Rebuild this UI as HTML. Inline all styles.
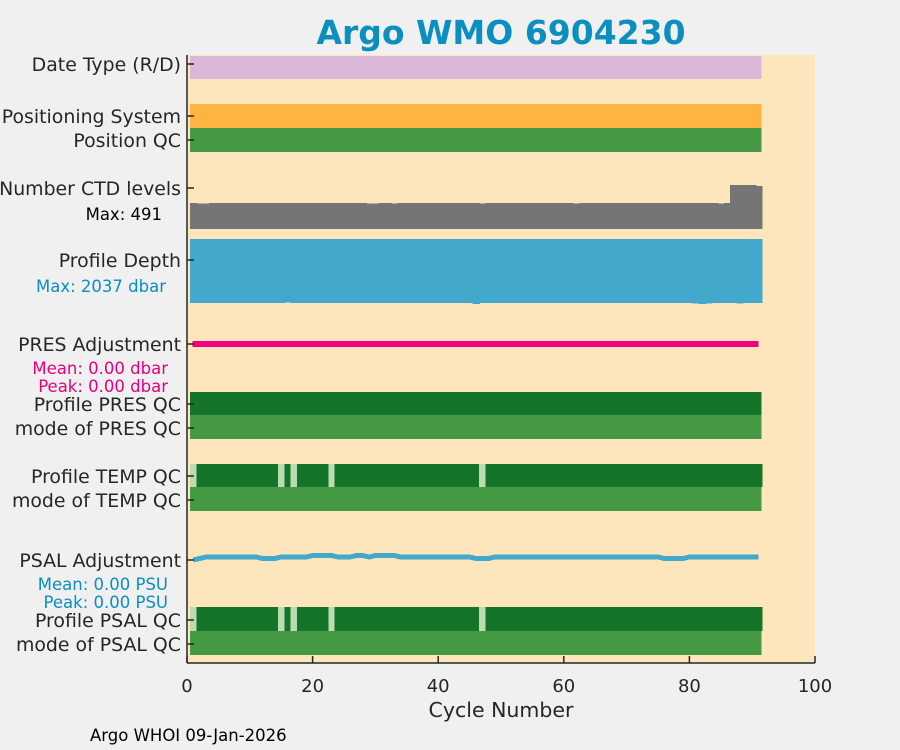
<!DOCTYPE html>
<html><head><meta charset="utf-8"><style>
body{margin:0;background:#f0f0f0;}
svg{display:block;font-family:"DejaVu Sans","Liberation Sans",sans-serif;}
</style></head><body>
<svg id="c" width="900" height="750">
<rect width="900" height="750" fill="#f0f0f0"/>
<text x="501" y="44" text-anchor="middle" font-size="33" font-weight="bold" fill="#0a8fc0">Argo WMO 6904230</text>
<rect x="187" y="55" width="628" height="608" fill="#fde6bc"/>
<g id="marks" shape-rendering="crispEdges"></g>
<g id="labels" font-size="18.9" fill="#262626" text-anchor="end">
<text x="181" y="71">Date Type (R/D)</text>
<text x="181" y="123">Positioning System</text>
<text x="181" y="147">Position QC</text>
<text x="181" y="195">Number CTD levels</text>
<text x="162" y="220" font-size="16.5" fill="#000">Max: 491</text>
<text x="181" y="267">Profile Depth</text>
<text x="166" y="292" font-size="16.5" fill="#0a8fc0">Max: 2037 dbar</text>
<text x="181" y="351">PRES Adjustment</text>
<text x="168" y="374" font-size="16.5" fill="#e8007f">Mean: 0.00 dbar</text>
<text x="168" y="392" font-size="16.5" fill="#e8007f">Peak: 0.00 dbar</text>
<text x="181" y="411">Profile PRES QC</text>
<text x="181" y="435">mode of PRES QC</text>
<text x="181" y="483">Profile TEMP QC</text>
<text x="181" y="507">mode of TEMP QC</text>
<text x="181" y="567">PSAL Adjustment</text>
<text x="168" y="590" font-size="16.5" fill="#0a8fc0">Mean: 0.00 PSU</text>
<text x="168" y="608" font-size="16.5" fill="#0a8fc0">Peak: 0.00 PSU</text>
<text x="181" y="627">Profile PSAL QC</text>
<text x="181" y="651">mode of PSAL QC</text>
</g>
<g id="axes" stroke="#262626" stroke-width="1.5">
<line x1="187" y1="55" x2="187" y2="663"/>
<line x1="187" y1="663" x2="815" y2="663"/>
</g>
<g id="xticks"></g>
<text x="501" y="717" text-anchor="middle" font-size="20.5" fill="#262626">Cycle Number</text>
<text x="90" y="741" font-size="16.5" fill="#000">Argo WHOI 09-Jan-2026</text>
</svg>
<script>
const cycles = Array.from({length:91},(_,i)=>i+1);
const ctdLevels = [290,282,282,290,290,290,290,290,290,290,290,290,290,290,290,290,290,290,290,290,290,290,290,290,290,290,290,290,284,284,290,290,282,290,290,290,290,290,290,290,290,290,290,290,290,290,282,290,290,290,290,290,290,290,290,290,290,290,290,290,290,284,290,290,290,290,290,290,290,290,290,290,290,290,290,290,290,290,290,290,290,290,290,290,284,290,491,491,491,491,480];
const profileDepth = [2000,2000,2000,2000,2000,2000,2000,2000,2000,2000,2000,2000,2000,2000,2000,1990,2000,2000,2000,2000,2000,2000,2000,2000,2000,2000,2000,2000,2000,2000,2000,2000,2000,2000,2000,2000,2000,2000,2000,2000,2000,2000,2010,2010,2000,2037,2010,2000,2000,2000,2000,2000,2000,2000,2000,2000,2000,2000,2000,2000,2000,2000,2000,2000,2000,2000,2000,2000,2000,2000,2010,2000,2010,2010,2000,2000,2000,2000,2000,2010,2020,2030,2020,2000,2000,2010,2010,2020,2000,2000,2000];
const tempQC = cycles.map(c=>[1,15,17,23,47].includes(c)?2:1);
const psalQC = cycles.map(c=>[1,15,17,23,47].includes(c)?2:1);
const psalAdj = [-2,-1,0,0,0,0,0,0,0,0,0,-1,-1,-1,0,0,0,0,0,1,1,1,1,0,0,0,1,1,0,1,1,1,1,0,0,0,0,0,0,0,0,0,0,0,0,-1,-1,-1,0,0,0,0,0,0,0,0,0,0,0,0,0,0,0,0,0,0,0,0,0,0,0,0,0,0,0,-1,-1,-1,-1,0,0,0,0,0,0,0,0,0,0,0,0];
const xTicks = [0,20,40,60,80,100];

const X = v => 187 + v*6.28;
const NS='http://www.w3.org/2000/svg';
const g=document.getElementById('marks');
function r(x,y,w,h,f){const e=document.createElementNS(NS,'rect');e.setAttribute('x',x);e.setAttribute('y',y);e.setAttribute('width',w);e.setAttribute('height',h);e.setAttribute('fill',f);g.appendChild(e);return e;}
const x0=X(0.5), x1=X(91.5);
let e;
e=r(x0,56,x1-x0,23,'#d9b8d9');


e=r(x0,104,x1-x0,24,'#fdb441');


e=r(x0,128,x1-x0,24,'#469945');


e=r(x0,392,x1-x0,23,'#147529');


e=r(x0,415,x1-x0,24,'#469945');


e=r(x0,487,x1-x0,24,'#469945');


e=r(x0,631,x1-x0,24,'#469945');


e=r(X(0.9),341,X(91)-X(0.9),6,'#f0007f');


cycles.forEach((c,i)=>{
  const xa=X(c-0.5), w=7.2;
  const h=ctdLevels[i]/491*44;
  e=r(xa,229-h,w,h,'#757575');
  
  
  const d=profileDepth[i]/2037*65;
  e=r(xa,239,w,d,'#42a8cc');
  
  
  e=r(xa,464,w,23,tempQC[i]===2?'#bddbb0':'#147529');
  
  
  e=r(xa,607,w,24,psalQC[i]===2?'#bddbb0':'#147529');
  
  
});
let pts=cycles.map((c,i)=>X(c)+','+(557-psalAdj[i]*1.5)).join(' ');
e=document.createElementNS(NS,'polyline');
e.setAttribute('points',pts);e.setAttribute('fill','none');e.setAttribute('stroke','#42a8cc');e.setAttribute('stroke-width','5');


g.appendChild(e);
const xt=document.getElementById('xticks');
xTicks.forEach(t=>{
  const l=document.createElementNS(NS,'line');
  l.setAttribute('x1',X(t));l.setAttribute('x2',X(t));l.setAttribute('y1',663);l.setAttribute('y2',656);l.setAttribute('stroke','#262626');l.setAttribute('stroke-width','1.5');
  
  
  xt.appendChild(l);
  const tx=document.createElementNS(NS,'text');
  tx.setAttribute('x',X(t));tx.setAttribute('y',692);tx.setAttribute('text-anchor','middle');tx.setAttribute('font-size','18');tx.setAttribute('fill','#262626');
  tx.textContent=t;
  
  
  xt.appendChild(tx);
});
[64,116,140,188,260,344,404,428,476,500,560,620,644].forEach(y=>{
  const l=document.createElementNS(NS,'line');
  l.setAttribute('x1',187);l.setAttribute('x2',194);l.setAttribute('y1',y);l.setAttribute('y2',y);l.setAttribute('stroke','#262626');l.setAttribute('stroke-width','1.5');
  
  
  document.getElementById('axes').appendChild(l);
});
</script>
</body></html>
